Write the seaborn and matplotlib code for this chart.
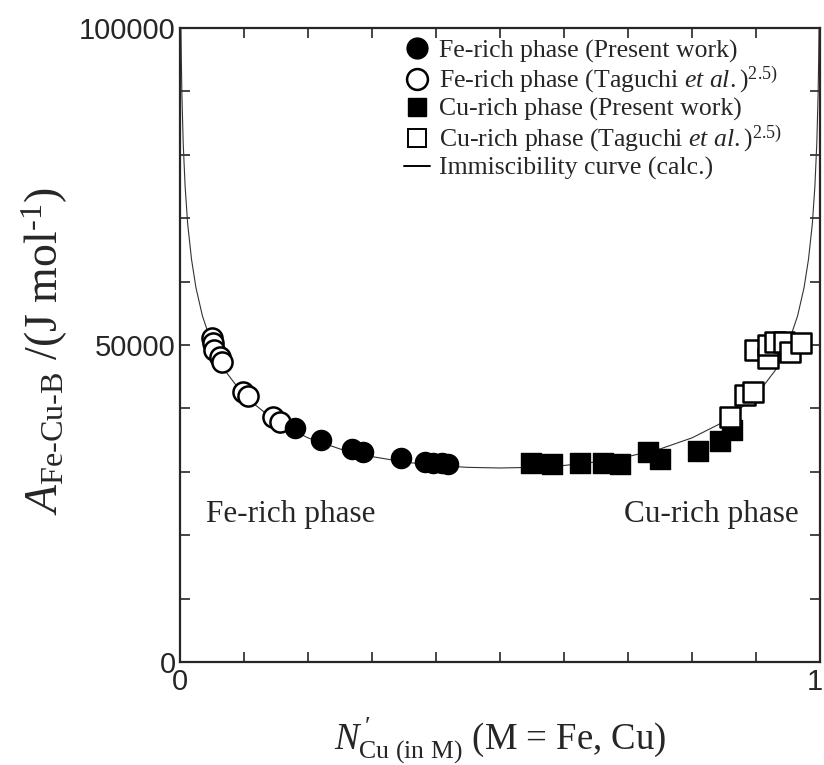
import numpy as np
import pandas as pd
import matplotlib
matplotlib.use("Agg")
import matplotlib.pyplot as plt
import seaborn as sns
from matplotlib.lines import Line2D

# ---------------- data ----------------
# Immiscibility curve (calc.)
curve_x = [0.0015, 0.002, 0.003, 0.005, 0.008, 0.012, 0.018, 0.025, 0.035, 0.05,
           0.07, 0.10, 0.15, 0.20, 0.25, 0.30, 0.35, 0.40, 0.45, 0.50,
           0.55, 0.60, 0.65, 0.70, 0.75, 0.80, 0.85, 0.90, 0.93, 0.95,
           0.965, 0.975, 0.982, 0.988, 0.992, 0.995, 0.997, 0.998, 0.9985]
curve_a = [99800, 95400, 89400, 81800, 75000, 69100, 63500, 59000, 54600, 50100,
           46000, 42000, 37900, 35350, 33600, 32400, 31550, 31000, 30700, 30600,
           30700, 31000, 31550, 32400, 33600, 35350, 37900, 42000, 46000, 50100,
           54600, 59000, 63500, 69100, 75000, 81800, 89400, 95400, 99800]

# Fe-rich phase (Present work)
fe_present_x = [0.180, 0.221, 0.268, 0.286, 0.346, 0.383, 0.396, 0.409, 0.419]
fe_present_a = [36860, 35020, 33550, 33170, 32130, 31590, 31440, 31340, 31230]

# Fe-rich phase (Taguchi et al.)
fe_tag_x = [0.0495, 0.052, 0.0536, 0.0625, 0.066, 0.099, 0.107, 0.146, 0.156]
fe_tag_a = [51060, 50270, 49210, 48160, 47370, 42630, 41960, 38690, 37900]

# Cu-rich phase (Present work)
cu_present_x = [0.549, 0.581, 0.625, 0.661, 0.6875, 0.732, 0.750, 0.810, 0.843, 0.862]
cu_present_a = [31340, 31230, 31340, 31340, 31230, 33070, 31970, 33330, 34900, 36590]

# Cu-rich phase (Taguchi et al.)
cu_tag_x = [0.859, 0.883, 0.896, 0.898, 0.919, 0.919, 0.930, 0.943, 0.953, 0.971]
cu_tag_a = [38690, 42110, 42630, 49210, 47900, 50000, 50520, 50520, 48950, 50270]

x_ticks = [0.0, 0.1, 0.2, 0.3, 0.4, 0.5, 0.6, 0.7, 0.8, 0.9, 1.0]
x_labels = ["0", "", "", "", "", "", "", "", "", "", "1"]
y_ticks = [0, 10000, 20000, 30000, 40000, 50000, 60000, 70000, 80000, 90000, 100000]
y_labels = ["0", "", "", "", "", "50000", "", "", "", "", "100000"]

legend_labels = [
    "Fe-rich phase (Present work)",
    r"Fe-rich phase (Taguchi $\mathit{et\ al.}$)$^{2.5)}$",
    "Cu-rich phase (Present work)",
    r"Cu-rich phase (Taguchi $\mathit{et\ al.}$)$^{2.5)}$",
    "Immiscibility curve (calc.)",
]

# ---------------- styling ----------------
sns.set_style("ticks")
plt.rcParams["font.family"] = ["Liberation Serif", "DejaVu Serif"]
plt.rcParams["mathtext.fontset"] = "custom"
plt.rcParams["mathtext.rm"] = "Liberation Serif"
plt.rcParams["mathtext.it"] = "Liberation Serif:italic"
plt.rcParams["mathtext.bf"] = "Liberation Serif:bold"

fig = plt.figure(figsize=(8.24, 7.65), dpi=100)
ax = fig.add_axes([180 / 824, 1 - 662 / 765, 640 / 824, 634 / 765])

curve_df = pd.DataFrame({"x": curve_x, "a": curve_a})
sns.lineplot(data=curve_df, x="x", y="a", sort=False, color="#333333",
             linewidth=0.8, ax=ax, zorder=1)

s_circ = 210
s_sq = 190
sns.scatterplot(x=fe_tag_x, y=fe_tag_a, marker="o", s=s_circ, facecolor="white",
                edgecolor="black", linewidth=1.8, ax=ax, zorder=3)
sns.scatterplot(x=fe_present_x, y=fe_present_a, marker="o", s=s_circ, color="black",
                edgecolor="black", linewidth=1.0, ax=ax, zorder=3)
sns.scatterplot(x=cu_present_x, y=cu_present_a, marker="s", s=s_sq, color="black",
                edgecolor="black", linewidth=1.0, ax=ax, zorder=3)
sns.scatterplot(x=cu_tag_x, y=cu_tag_a, marker="s", s=s_sq, facecolor="white",
                edgecolor="black", linewidth=1.8, ax=ax, zorder=3)

ax.set_xlim(0, 1)
ax.set_ylim(0, 100000)
ax.set_xticks(x_ticks)
# last x tick label ("1") is drawn separately so it stays inside the figure
ax.set_xticklabels(x_labels[:-1] + [""])
ax.set_yticks(y_ticks)
ax.set_yticklabels(y_labels)
for lab in ax.get_xticklabels() + ax.get_yticklabels():
    lab.set_family(["Liberation Sans", "DejaVu Sans"])
    lab.set_fontsize(21)
ax.annotate(x_labels[-1], xy=(x_ticks[-1], 0), xycoords=("data", "axes fraction"),
            xytext=(3, -6), textcoords="offset pixels", ha="right", va="top",
            fontsize=21, family=["Liberation Sans", "DejaVu Sans"],
            annotation_clip=False)
ax.tick_params(direction="in", length=7, width=1.2, top=True, right=True,
               pad=4)
ax.tick_params(axis="y", pad=3)
for sp in ax.spines.values():
    sp.set_linewidth(1.6)
    sp.set_visible(True)

ax.set_xlabel(r"$N^{\,\prime}_{\text{Cu (in M)}}$ (M = Fe, Cu)", fontsize=26.5, labelpad=14)
ax.set_ylabel(r"$A_{\text{Fe-Cu-B}}$ /(J mol$^{\text{-1}}$)", fontsize=33)
ax.yaxis.set_label_coords(-0.172, 0.49)

ax.text(0.04, 0.232, "Fe-rich phase", transform=ax.transAxes, fontsize=22.5,
        ha="left", va="center")
ax.text(0.967, 0.232, "Cu-rich phase", transform=ax.transAxes, fontsize=22.5,
        ha="right", va="center")

handles = [
    Line2D([], [], marker="o", linestyle="none", markerfacecolor="black",
           markeredgecolor="black", markersize=15),
    Line2D([], [], marker="o", linestyle="none", markerfacecolor="white",
           markeredgecolor="black", markeredgewidth=1.8, markersize=15),
    Line2D([], [], marker="s", linestyle="none", markerfacecolor="black",
           markeredgecolor="black", markersize=13.5),
    Line2D([], [], marker="s", linestyle="none", markerfacecolor="white",
           markeredgecolor="black", markeredgewidth=1.4, markersize=13.5),
    Line2D([], [], color="black", linewidth=1.4),
]
leg = ax.legend(handles, legend_labels, loc="upper left",
                bbox_to_anchor=(0.35, 0.982), frameon=False, fontsize=18.5,
                handlelength=1.0, handletextpad=0.35, labelspacing=0.08,
                borderaxespad=0.0, borderpad=0.0)

fig.savefig("out.png", dpi=100)
